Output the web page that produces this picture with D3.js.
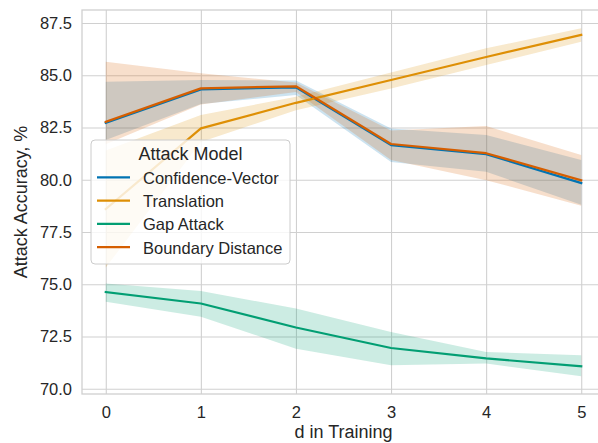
<!DOCTYPE html>
<html>
<head>
<meta charset="utf-8">
<script src="https://cdn.jsdelivr.net/npm/d3@7"></script>
<style>
  html, body { margin: 0; padding: 0; background: #fff; }
  svg { display: block; font-family: "Liberation Sans", Arial, sans-serif; }
</style>
</head>
<body>
<svg id="chart" width="598" height="443"></svg>
<script>
// Training distance d on the x axis
const dValues = [0, 1, 2, 3, 4, 5];

// Mean attack accuracy (%) per model, with lower/upper confidence bounds
const confidenceMean = [82.72, 84.32, 84.42, 81.66, 81.22, 79.84];
const confidenceLow  = [81.9, 83.62, 84.05, 80.85, 80.38, 78.8];
const confidenceHigh = [84.69, 84.77, 84.75, 82.45, 82.14, 80.94];

const translationMean = [78.6, 82.46, 83.68, 84.77, 85.87, 86.93];
const translationLow  = [75.8, 81.8, 83.33, 84.37, 85.49, 86.6];
const translationHigh = [81.4, 83.1, 83.97, 85.13, 86.29, 87.25];

const gapMean = [74.63, 74.08, 72.93, 71.95, 71.45, 71.08];
const gapLow  = [74.16, 73.44, 71.92, 71.13, 71.21, 70.6];
const gapHigh = [75.04, 74.68, 73.84, 72.72, 71.76, 71.6];

const boundaryMean = [82.77, 84.37, 84.47, 81.71, 81.27, 79.97];
const boundaryLow  = [81.7, 83.6, 84.2, 80.95, 79.98, 78.75];
const boundaryHigh = [85.65, 85.09, 84.65, 82.35, 82.57, 81.18];

const seriesNames = ["Confidence-Vector", "Translation", "Gap Attack", "Boundary Distance"];
const seriesColors = ["#0173B2", "#DE8F05", "#029E73", "#D55E00"];

const yTicks = [70.0, 72.5, 75.0, 77.5, 80.0, 82.5, 85.0, 87.5];
const xTicks = [0, 1, 2, 3, 4, 5];

const series = [
  { mean: confidenceMean, low: confidenceLow, high: confidenceHigh },
  { mean: translationMean, low: translationLow, high: translationHigh },
  { mean: gapMean, low: gapLow, high: gapHigh },
  { mean: boundaryMean, low: boundaryLow, high: boundaryHigh }
].map((s, i) => ({ ...s, name: seriesNames[i], color: seriesColors[i] }));

const svg = d3.select("#chart");
const plot = { left: 82, right: 605, top: 10, bottom: 394 };

const x = d3.scaleLinear().domain([-0.25, 5.25]).range([plot.left, plot.right]);
const y = d3.scaleLinear().domain([69.75, 88.12]).range([plot.bottom, plot.top]);

const gridColor = "#d0d0d0";
const textColor = "#262626";

// Grid lines
const gx = svg.append("g")
  .attr("transform", `translate(0,${plot.bottom})`)
  .call(d3.axisBottom(x).tickValues(xTicks).tickSize(-(plot.bottom - plot.top)).tickFormat(d3.format("d")).tickPadding(12));
gx.select(".domain").remove();
gx.selectAll(".tick line").attr("stroke", gridColor).attr("stroke-width", 1.1);
gx.selectAll(".tick text").attr("fill", textColor).style("font-size", "16.5px");

const gy = svg.append("g")
  .attr("transform", `translate(${plot.left},0)`)
  .call(d3.axisLeft(y).tickValues(yTicks).tickSize(-(plot.right - plot.left)).tickFormat(d3.format(".1f")).tickPadding(10));
gy.select(".domain").remove();
gy.selectAll(".tick line").attr("stroke", gridColor).attr("stroke-width", 1.1);
gy.selectAll(".tick text").attr("fill", textColor).style("font-size", "16.5px");

// Confidence bands (drawn beneath all lines)
const area = d3.area()
  .x((d, i) => x(dValues[i]))
  .y0(d => y(d[0]))
  .y1(d => y(d[1]));

series.forEach(s => {
  svg.append("path")
    .datum(s.low.map((lo, i) => [lo, s.high[i]]))
    .attr("d", area)
    .attr("fill", s.color)
    .attr("fill-opacity", 0.2)
    .attr("stroke", "none");
});

// Mean lines
const line = d3.line()
  .x((d, i) => x(dValues[i]))
  .y(d => y(d));

series.forEach(s => {
  svg.append("path")
    .datum(s.mean)
    .attr("d", line)
    .attr("fill", "none")
    .attr("stroke", s.color)
    .attr("stroke-width", 2.2)
    .attr("stroke-linejoin", "round")
    .attr("stroke-linecap", "square");
});

// Axes frame
svg.append("rect")
  .attr("x", plot.left).attr("y", plot.top)
  .attr("width", plot.right - plot.left).attr("height", plot.bottom - plot.top)
  .attr("fill", "none").attr("stroke", gridColor).attr("stroke-width", 1.3);

// Axis titles
svg.append("text")
  .attr("x", (x(0) + x(5)) / 2).attr("y", 438)
  .attr("text-anchor", "middle").attr("fill", textColor)
  .style("font-size", "18px")
  .text("d in Training");

svg.append("text")
  .attr("transform", `translate(27,${(plot.top + plot.bottom) / 2}) rotate(-90)`)
  .attr("text-anchor", "middle").attr("fill", textColor)
  .style("font-size", "18px")
  .text("Attack Accuracy, %");

// Legend
const legend = svg.append("g").attr("transform", "translate(91,140)");
legend.append("rect")
  .attr("width", 199).attr("height", 124).attr("rx", 4)
  .attr("fill", "#fff").attr("fill-opacity", 0.8)
  .attr("stroke", "#cccccc").attr("stroke-width", 1);
legend.append("text")
  .attr("x", 99.5).attr("y", 19.5)
  .attr("text-anchor", "middle").attr("fill", textColor)
  .style("font-size", "18px")
  .text("Attack Model");

series.forEach((s, i) => {
  const row = legend.append("g").attr("transform", `translate(0,${37.3 + i * 23.3})`);
  row.append("line")
    .attr("x1", 6).attr("x2", 39).attr("y1", 0).attr("y2", 0)
    .attr("stroke", s.color).attr("stroke-width", 2.2);
  row.append("text")
    .attr("x", 52).attr("y", 6.3)
    .attr("fill", textColor)
    .style("font-size", "16.5px")
    .text(s.name);
});
</script>
</body>
</html>
